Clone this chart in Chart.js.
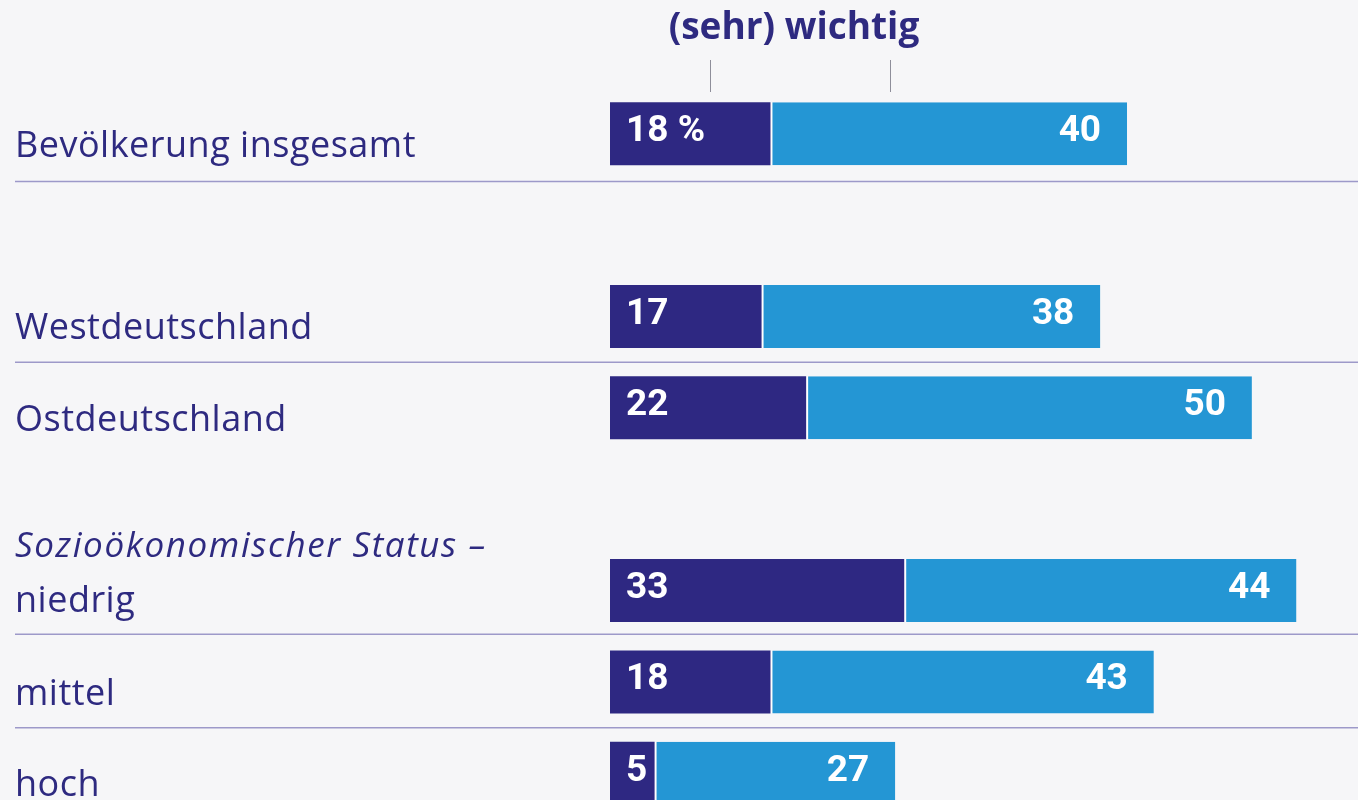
<!DOCTYPE html>
<html>
<head>
<meta charset="utf-8">
<script src="https://cdn.jsdelivr.net/npm/chart.js@4"></script>
<style>
  html, body { margin: 0; padding: 0; background: #f6f6f8; overflow: hidden; }
  #wrap { width: 1358px; height: 830px; position: relative; }
</style>
</head>
<body>
<div id="wrap"><canvas id="chart"></canvas></div>
<script>
// empty strings are spacer rows
const categories = ['Bevölkerung insgesamt', '', 'Westdeutschland', 'Ostdeutschland', '', ['Sozioökonomischer Status –', 'niedrig'], 'mittel', 'hoch'];
const sehrWichtig = [18, null, 17, 22, null, 33, 18, 5];
const wichtig = [40, null, 38, 50, null, 44, 43, 27];
const headerText = '(sehr) wichtig';
const separatorsAfter = [0, 2, 5, 6];

const DARK = '#2e2882';
const LIGHT = '#2496d4';
const TEXT = '#2e2a80';

const overlay = {
  id: 'overlay',
  afterDraw(chart) {
    const ctx = chart.ctx;
    const y = chart.scales.y;
    const x = chart.scales.x;
    ctx.save();

    // header
    ctx.fillStyle = TEXT;
    ctx.font = 'bold 37px "Open Sans"';
    ctx.textAlign = 'center';
    ctx.textBaseline = 'alphabetic';
    ctx.fillText(headerText, 794, 39);
    ctx.strokeStyle = '#8e8e9a';
    ctx.lineWidth = 1;
    [x.getPixelForValue(11.2), x.getPixelForValue(31.4)].forEach(px => {
      ctx.beginPath();
      ctx.moveTo(Math.round(px) + 0.5, 60);
      ctx.lineTo(Math.round(px) + 0.5, 92);
      ctx.stroke();
    });

    // separators
    ctx.strokeStyle = '#9d99c9';
    ctx.lineWidth = 1.5;
    separatorsAfter.forEach(i => {
      const yy = (y.getPixelForValue(i) + y.getPixelForValue(i + 1)) / 2 + (i === 0 ? 2 : i === 5 ? -2 : 0);
      ctx.beginPath();
      ctx.moveTo(15, yy);
      ctx.lineTo(chart.width, yy);
      ctx.stroke();
    });

    // category labels
    ctx.textAlign = 'left';
    ctx.fillStyle = TEXT;
    categories.forEach((c, i) => {
      if (!c) return;
      const cy = y.getPixelForValue(i);
      if (Array.isArray(c)) {
        ctx.font = 'italic 35px "Open Sans"';
        ctx.letterSpacing = '1.6px';
        ctx.fillText(c[0], 15, cy - 34);
        ctx.font = '36px "Open Sans"';
        ctx.letterSpacing = '0.5px';
        ctx.fillText(c[1], 15, cy + 21);
      } else {
        ctx.font = '36px "Open Sans"';
        ctx.letterSpacing = '0.5px';
        ctx.fillText(c, 15, cy + 23);
      }
    });
    ctx.letterSpacing = '0px';

    // value labels
    ctx.fillStyle = '#ffffff';
    ctx.font = 'bold 37px Roboto';
    ctx.textBaseline = 'middle';
    const m0 = chart.getDatasetMeta(0);
    const m1 = chart.getDatasetMeta(1);
    sehrWichtig.forEach((v, i) => {
      if (v == null) return;
      const b0 = m0.data[i];
      ctx.textAlign = 'left';
      ctx.fillText(i === 0 ? v + ' %' : String(v), b0.base + 16, b0.y - 2);
      const b1 = m1.data[i];
      ctx.textAlign = 'right';
      ctx.fillText(String(wichtig[i]), b1.x - 26, b1.y - 2);
    });
    ctx.restore();
  }
};

new Chart(document.getElementById('chart'), {
  type: 'bar',
  data: {
    labels: categories,
    datasets: [
      { label: 'sehr wichtig', data: sehrWichtig, backgroundColor: DARK, borderWidth: 0 },
      { label: 'wichtig', data: wichtig, backgroundColor: LIGHT, borderColor: '#ffffff', borderWidth: { left: 2, right: 0, top: 0, bottom: 0 }, borderSkipped: false }
    ]
  },
  options: {
    indexAxis: 'y',
    responsive: true,
    maintainAspectRatio: false,
    animation: false,
    barPercentage: 0.69,
    categoryPercentage: 1,
    layout: { padding: { left: 610, top: 88, right: 0, bottom: 11 } },
    plugins: { legend: { display: false }, tooltip: { enabled: false } },
    scales: {
      x: { stacked: true, min: 0, max: 83.9, display: false },
      y: { stacked: true, display: false }
    }
  },
  plugins: [overlay]
});
</script>
</body>
</html>
